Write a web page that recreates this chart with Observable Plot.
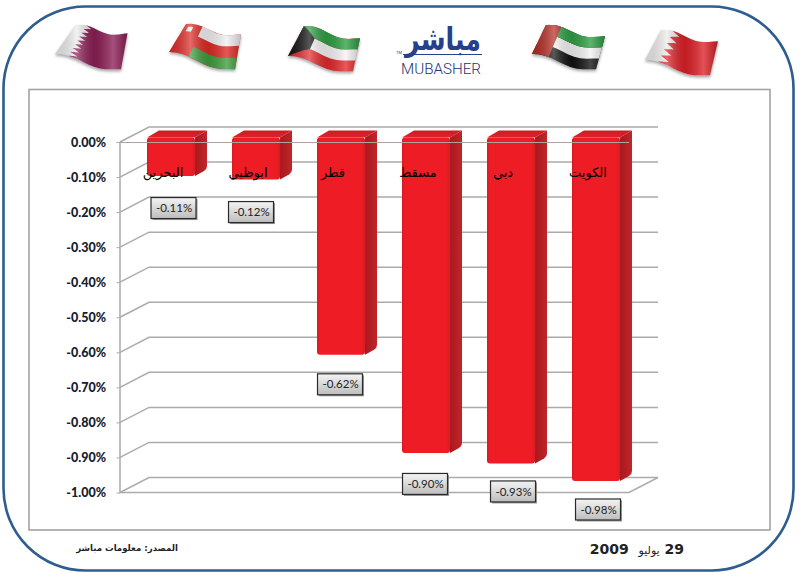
<!DOCTYPE html>
<html lang="ar">
<head>
<meta charset="utf-8">
<script src="https://cdn.jsdelivr.net/npm/d3@7"></script>
<script src="https://cdn.jsdelivr.net/npm/@observablehq/plot@0.6"></script>
<style>
html,body{margin:0;padding:0;background:#fff;}
#stage{position:relative;width:800px;height:574px;overflow:hidden;}
#stage>svg{position:absolute;left:0;top:0;}
</style>
</head>
<body>
<div id="stage"></div>
<script>
// ---- data ----
const cities = ["البحرين", "ابوظبي", "قطر", "مسقط", "دبي", "الكويت"];
const values = [-0.11, -0.12, -0.62, -0.90, -0.93, -0.98];
const valueLabels = ["-0.11%", "-0.12%", "-0.62%", "-0.90%", "-0.93%", "-0.98%"];
const yTicks = [0, -0.1, -0.2, -0.3, -0.4, -0.5, -0.6, -0.7, -0.8, -0.9, -1];
const yTickLabels = ["0.00%", "-0.10%", "-0.20%", "-0.30%", "-0.40%", "-0.50%", "-0.60%", "-0.70%", "-0.80%", "-0.90%", "-1.00%"];
const sourceText = "المصدر: معلومات مباشر";
const dateDay = "29", dateMonth = "يوليو", dateYear = "2009";

// ---- layout of the pseudo-3D look and of the label boxes ----
const wallDx = 29, wallDy = -15;          // back wall offset
const barDepthX = 12, barDepthY = -7;     // bar extrusion
const barDy = -4.5;                       // bars sit inside the floor depth
const boxShiftX = [2.5, -5, -1, -1, 2, 2];
const boxShiftY = [27.5, 28, 25, 26.5, 23.5, 24];
const boxW = 45, boxH = 21;
const bandPadding = 0.435;

const table = cities.map((city, i) => ({city, value: values[i], label: valueLabels[i], i}));

// ---- page furniture (frame, flags, logo, footer) ----
const bg = d3.select("#stage").append("svg").attr("width", 800).attr("height", 574);
const defs = bg.append("defs");
function grad(id, stops, horizontal) {
  const g = defs.append("linearGradient").attr("id", id)
    .attr("x1", 0).attr("y1", 0).attr("x2", horizontal ? 1 : 0).attr("y2", horizontal ? 0 : 1);
  stops.forEach(s => g.append("stop").attr("offset", s[0]).attr("stop-color", s[1]).attr("stop-opacity", s[2] ?? 1));
}
grad("gloss", [[0, "#000", .12], [.3, "#fff", .3], [.55, "#000", .12], [.8, "#fff", .22], [1, "#000", .2]], true);
grad("boxFill", [[0, "#f4f4f4"], [1, "#bdbdbd"]], false);
grad("barFront", [[0, "#d61b22"], [.06, "#ee1c25"], [.92, "#ee1c25"], [1, "#d91b22"]], true);
grad("barSide", [[0, "#a9181d"], [1, "#c0262b"]], true);
grad("barTop", [[0, "#c81e24"], [1, "#e0222a"]], false);

bg.append("rect").attr("x", 3.5).attr("y", 6.5).attr("width", 790).attr("height", 564).attr("rx", 82).attr("ry", 82)
  .attr("fill", "#fff").attr("stroke", "#2f5d8f").attr("stroke-width", 2.6);
bg.append("rect").attr("x", 29).attr("y", 89.5).attr("width", 741).attr("height", 440.5)
  .attr("fill", "#fff").attr("stroke", "#a3a3a3").attr("stroke-width", 1.6);

function flag(q, shapes) {
  const [tl, tr, br, bl] = q;
  const map = (u, v) => {
    const top = [tl[0] + (tr[0] - tl[0]) * u, tl[1] + (tr[1] - tl[1]) * u];
    const bot = [bl[0] + (br[0] - bl[0]) * u, bl[1] + (br[1] - bl[1]) * u];
    const wave = Math.sin(u * Math.PI * 2.1 + .4) * 2.6;
    return [top[0] + (bot[0] - top[0]) * v, top[1] + (bot[1] - top[1]) * v - wave];
  };
  const g = bg.append("g").style("filter", "drop-shadow(0 2px 1.5px rgba(0,0,0,.35))");
  shapes.concat([{c: "url(#gloss)", pts: [[0,0],[1,0],[1,1],[0,1]]}]).forEach(s => {
    const out = [];
    s.pts.forEach((p, i) => {
      const n = s.pts[(i + 1) % s.pts.length];
      for (let k = 0; k < 10; k++) out.push(map(p[0] + (n[0] - p[0]) * k / 10, p[1] + (n[1] - p[1]) * k / 10));
    });
    g.append("polygon").attr("points", out.map(d => d.join(",")).join(" ")).attr("fill", s.c);
  });
}
const full = [[0,0],[1,0],[1,1],[0,1]];
function serrated(uA, uB, teeth) {
  const pts = [[uA, 0]];
  for (let i = 0; i < teeth; i++) {
    pts.push([uB, (i + .5) / teeth]);
    pts.push([uA, (i + 1) / teeth]);
  }
  return pts.concat([[1, 1], [1, 0]]);
}
flag([[75.5,26],[127.5,35],[121,71],[55,55]], [{c:"#ececec",pts:full},{c:"#8c1f55",pts:serrated(.2,.32,8)}]);
flag([[186,25],[241,36],[235,71],[169,53]], [
  {c:"#dd2a26",pts:full},
  {c:"#f1f1f1",pts:[[.3,0],[1,0],[1,.33],[.3,.33]]},
  {c:"#3f9d3f",pts:[[.3,.67],[1,.67],[1,1],[.3,1]]},
  {c:"#f1f1f1",pts:[[.07,.1],[.16,.1],[.16,.26],[.07,.26]]}]);
flag([[304,27],[360,40],[353,73],[288,57]], [
  {c:"#e12a2c",pts:full},
  {c:"#f4f4f4",pts:[[0,.33],[1,.33],[1,.67],[0,.67]]},
  {c:"#2f9f45",pts:[[0,0],[1,0],[1,.33],[0,.33]]},
  {c:"#111",pts:[[0,0],[.27,.33],[.27,.67],[0,1]]}]);
flag([[546,26],[605,38],[596,71],[532,55]], [
  {c:"#111",pts:full},
  {c:"#f4f4f4",pts:[[0,.33],[1,.33],[1,.67],[0,.67]]},
  {c:"#2f9f45",pts:[[0,0],[1,0],[1,.33],[0,.33]]},
  {c:"#b32a22",pts:[[0,0],[.26,0],[.26,1],[0,1]]}]);
flag([[661,31],[718,43],[710,77],[645,61]], [{c:"#ececec",pts:full},{c:"#dc2128",pts:serrated(.2,.34,5)}]);

// logo
bg.append("text").attr("x", 443).attr("y", 50).attr("text-anchor", "middle")
  .attr("font-family", "DejaVu Sans").attr("font-weight", "bold").attr("font-size", 32).attr("textLength", 76).attr("lengthAdjust", "spacingAndGlyphs")
  .attr("fill", "#27408b").text("مباشر");
bg.append("line").attr("x1", 403).attr("x2", 482).attr("y1", 54.5).attr("y2", 54.5).attr("stroke", "#27408b").attr("stroke-width", 1);
bg.append("text").attr("x", 396).attr("y", 54).attr("font-family", "Roboto").attr("font-size", 4).attr("fill", "#27408b").text("TM");
bg.append("text").attr("x", 441).attr("y", 73.5).attr("text-anchor", "middle")
  .attr("font-family", "Roboto").attr("font-weight", 300).attr("font-size", 15.5).attr("textLength", 80).attr("lengthAdjust", "spacingAndGlyphs")
  .attr("fill", "#26336f").text("MUBASHER");

// footer
bg.append("text").attr("x", 178).attr("y", 551).attr("direction", "rtl").attr("text-anchor", "start")
  .attr("font-family", "DejaVu Sans").attr("font-weight", "bold").attr("font-size", 8.6).attr("fill", "#222").text(sourceText);
const dateT = bg.append("text").attr("x", 684).attr("y", 554).attr("direction", "rtl").attr("text-anchor", "start")
  .style("white-space", "pre")
  .attr("font-family", "DejaVu Sans").attr("font-weight", "bold").attr("font-size", 14).attr("letter-spacing", .6).attr("fill", "#222");
dateT.append("tspan").text(dateDay + " ");
dateT.append("tspan").attr("font-size", 11).attr("font-weight", "normal").attr("letter-spacing", 0).text(dateMonth);
dateT.append("tspan").text("  " + dateYear);

// ---- custom marks that read the chart's own scales ----
const bandW = x => (x(cities[1]) - x(cities[0])) * (1 - bandPadding);

const gridMark = (index, {y}) => {
  const g = d3.create("svg:g").attr("fill", "none").attr("stroke", "#ababab").attr("stroke-width", 1.5);
  const x0 = 120, x1 = 629;
  yTicks.forEach(t => {
    g.append("path").attr("d", `M${x0},${y(t)}L${x0 + wallDx},${y(t) + wallDy}H${x1 + wallDx}`);
  });
  g.append("path").attr("d", `M${x0},${y(0)}V${y(-1)}H${x1}L${x1 + wallDx},${y(-1) + wallDy}`);
  return g.node();
};

const barSides = (index, {x, y}) => {
  const g = d3.create("svg:g");
  const w = bandW(x);
  table.forEach(d => {
    const l = x(d.city), r = l + w, t = y(0) + barDy, b = y(d.value) + barDy;
    g.append("path").attr("fill", "url(#barTop)")
      .attr("d", `M${l},${t}L${l + barDepthX},${t + barDepthY}H${r + barDepthX}L${r},${t}Z`);
    g.append("path").attr("fill", "url(#barSide)")
      .attr("d", `M${r},${t}L${r + barDepthX},${t + barDepthY}V${b + barDepthY - 3}Q${r + barDepthX},${b + barDepthY} ${r + barDepthX - 3},${b + barDepthY + 2}L${r},${b}Z`);
  });
  return g.node();
};

const valueBoxes = (index, {x, y}) => {
  const g = d3.create("svg:g");
  const w = bandW(x);
  table.forEach(d => {
    const cx = x(d.city) + w / 2 + boxShiftX[d.i], cy = y(d.value) + boxShiftY[d.i];
    g.append("rect").attr("x", cx - boxW / 2 + 1.5).attr("y", cy - boxH / 2 + 1.5).attr("width", boxW).attr("height", boxH).attr("fill", "#999");
    g.append("rect").attr("x", cx - boxW / 2).attr("y", cy - boxH / 2).attr("width", boxW).attr("height", boxH)
      .attr("fill", "url(#boxFill)").attr("stroke", "#2b2b2b").attr("stroke-width", 1.2);
  });
  return g.node();
};

// ---- the chart ----
const chart = Plot.plot({
  width: 800,
  height: 574,
  marginTop: 142,
  marginBottom: 81.5,
  marginLeft: 120,
  marginRight: 171,
  style: {background: "transparent", overflow: "visible"},
  x: {domain: cities, type: "band", range: [128.5, 638.5], paddingInner: bandPadding, paddingOuter: bandPadding / 2, axis: null},
  y: {domain: [-1, 0], range: [492.5, 142], axis: null},
  marks: [
    gridMark,
    barSides,
    Plot.barY(table, {x: "city", y1: 0, y2: "value", dy: barDy, fill: "url(#barFront)", rx: 3}),
    Plot.ruleY([0], {stroke: "#b0a39e", strokeWidth: 1.2}),
    Plot.axisY({
      anchor: "left", ticks: yTicks, tickSize: 3.5, tickPadding: 11, stroke: "#ababab",
      tickFormat: d => yTickLabels[yTicks.indexOf(d)],
      label: null, fontFamily: "Lato", fontWeight: 900, fontSize: 12.5, fill: "#14202e"
    }),
    Plot.text(table, {
      x: "city", text: "city", frameAnchor: "top", dx: -8.5, dy: 25,
      fontFamily: "DejaVu Sans", fontSize: 13, fill: "#000"
    }),
    valueBoxes,
    ...table.map(d => Plot.text([d], {
      x: "city", y: "value", text: "label", dx: boxShiftX[d.i], dy: boxShiftY[d.i],
      fontFamily: "Lato", fontSize: 11.5, fill: "#222"
    }))
  ]
});
document.getElementById("stage").appendChild(chart);
</script>
</body>
</html>
